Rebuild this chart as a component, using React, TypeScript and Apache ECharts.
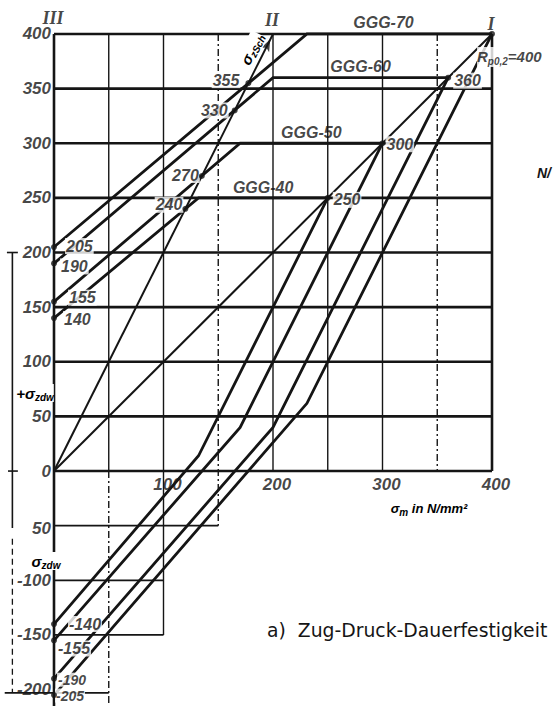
import React, { useEffect, useRef } from "react";
import * as echarts from "echarts";

// Gusseisen mit Kugelgraphit
const materials = ["GGG-40", "GGG-50", "GGG-60", "GGG-70"];
// Zug-Druck-Wechselfestigkeit ±σzdw in N/mm²
const sigmaZdw = [140, 155, 190, 205];
// Zug-Schwellfestigkeit σzSch (Oberspannung) und zugehörige Mittelspannung
const sigmaZSch = [240, 270, 330, 355];
const sigmaMSch = [120, 135, 165, 177.5];
// Dehngrenze Rp0,2
const rp02 = [250, 300, 360, 400];
// Mittelspannung, bei der die Oberspannungslinie die Dehngrenze erreicht
const kneeM = [132, 170, 200, 231];
// Unterspannung bei dieser Mittelspannung
const kneeLower = [14, 40, 40, 62];

// σo = σm  und  σo = 2·σm (Schwellgerade)
const meanLine = [[0, 0], [400, 400]];
const schLine = [[0, 0], [200, 400]];

const yTicks = [400, 350, 300, 250, 200, 150, 100, 50, 0, -50, -100, -150, -200];
const yTickLabels = ["400", "350", "300", "250", "200", "150", "100", "50", "0", "50", "-100", "-150", "-200"];
const xTicks = [100, 200, 300, 400];
const xTickLabels = ["100", "200", "300", "400"];

// Raster: [σm] bzw. [σm, σ von, σ bis] bzw. [σ, σm von, σm bis]
const rulesH = [0, 50, 100, 150, 200, 250, 300, 350, 400];
const rulesV = [[50, 400, 0], [100, 400, -150], [200, 400, 0], [250, 400, 0], [300, 400, 0]];
const rulesVDashDot = [[150, 400, -50], [350, 400, 0], [50, 0, -215]];
const rulesHLower = [[-50, 0, 150], [-100, 0, 100], [-150, 0, 100], [-203, -45, 50]];

const romanLabels = ["III", "II", "I"];
const romanAt = [0, 200, 400];

// Maßlinie für ±σzdw
const bracketX = -38;

// axis frame: σm from -48 to 450, σ from -215 to 420
const X_MIN = -48, X_MAX = 450, Y_MIN = -215, Y_MAX = 420;
const K = 1.095;
const ORIGIN_X = 54, ORIGIN_Y = 472;

const INK = "#151515";
const NUM_FONT = "'Liberation Sans', Arial, sans-serif";
const DASH_DOT = [7, 3, 2, 3];

function buildOption() {
  const series: any[] = [];

  const seg = (data: number[][], width: number, type: any = "solid", z = 2) =>
    series.push({
      type: "line",
      data,
      symbol: "none",
      silent: true,
      clip: false,
      z,
      lineStyle: { color: INK, width, type, cap: "butt", join: "miter" },
    });

  const tag = (x: number, y: number, text: string, o: any = {}) =>
    series.push({
      type: "scatter",
      data: [[x, y]],
      symbol: "circle",
      symbolSize: 2,
      silent: true,
      z: 6,
      itemStyle: { color: "rgba(0,0,0,0)" },
      label: {
        show: true,
        formatter: text,
        position: [1, 1],
        align: o.align ?? "left",
        verticalAlign: o.va ?? "middle",
        offset: o.offset ?? [0, 0],
        fontFamily: o.family ?? NUM_FONT,
        fontStyle: o.style ?? "italic",
        fontWeight: o.weight ?? "bold",
        fontSize: o.size ?? 16,
        lineHeight: o.size ?? 16,
        color: INK,
        backgroundColor: o.bg ?? "transparent",
        padding: o.pad ?? 0,
        rich: o.rich,
      },
    });

  // thin verticals
  rulesV.forEach(([x, a, b]) => seg([[x, a], [x, b]], 1.4, "solid", 1));
  rulesVDashDot.forEach(([x, a, b]) => seg([[x, a], [x, b]], 1.4, DASH_DOT, 1));
  // heavy horizontals
  rulesH.forEach((y) => seg([[0, y], [400, y]], 2.6, "solid", 1));
  rulesHLower.forEach(([y, a, b]) => seg([[a, y], [b, y]], 1.8, "solid", 1));
  // frame
  seg([[0, 400], [0, Y_MIN]], 2.6, "solid", 1);
  seg([[400, 0], [400, 400]], 2.6, "solid", 1);

  // dimension line ±σzdw
  seg([[bracketX, 200], [bracketX, -52]], 1.6, "solid", 1);
  seg([[bracketX, -62], [bracketX, -203]], 1.3, [6, 4], 1);
  seg([[bracketX - 5, 200], [bracketX + 5, 200]], 1.6, "solid", 1);
  seg([[bracketX - 4, 0], [bracketX + 5, 0]], 1.6, "solid", 1);

  // σo = σm and Schwellgerade
  seg(meanLine, 2);
  seg(schLine, 2);
  const schEnd = schLine[schLine.length - 1];
  series.push({
    type: "scatter",
    data: [schEnd],
    symbol: "arrow",
    symbolSize: [7, 12],
    symbolRotate: -26.57,
    symbolOffset: [-2.7, 5.4],
    itemStyle: { color: INK },
    silent: true,
    z: 4,
  });

  // Ober- und Unterspannungslinien
  materials.forEach((_, i) => {
    seg([[0, sigmaZdw[i]], [kneeM[i], rp02[i]], [rp02[i], rp02[i]]], 2.8, "solid", 3);
    seg([[0, -sigmaZdw[i]], [kneeM[i], kneeLower[i]], [rp02[i], rp02[i]]], 2.8, "solid", 3);
  });

  // points
  const dots: number[][] = [];
  materials.forEach((_, i) => {
    dots.push([0, sigmaZdw[i]], [0, -sigmaZdw[i]], [sigmaMSch[i], sigmaZSch[i]], [rp02[i], rp02[i]]);
  });
  series.push({
    type: "scatter",
    data: dots,
    symbol: "circle",
    symbolSize: 6,
    itemStyle: { color: INK },
    silent: true,
    z: 7,
  });

  // tick labels
  yTicks.forEach((y, i) =>
    tag(0, y, yTickLabels[i], { align: "right", offset: [-3, y === -50 ? 3 : 0], size: 17 })
  );
  xTicks.forEach((x, i) =>
    tag(x, 0, xTickLabels[i], { align: "center", va: "top", offset: [4, 5], size: 17 })
  );

  const whiteBg = { bg: "#fff", pad: [0, 1] };
  const schShift = [[-2, -4], [-2, -1], [-6, 0], [-8, -3]];
  const zdwShift = [[9, 1], [14, -4], [6, 3], [11, -1]];
  const zdwNegShift = [[14, 0], [3, 8], [3, 1], [1, 0.5]];
  const zdwNegSize = [16, 16, 14, 14];
  const rpShift = [[5, 2], [3, 1], [5, 3]];
  const matShift = [[0, -10], [0, -11], [0, -11], [-16, -11]];

  materials.forEach((name, i) => {
    tag(sigmaMSch[i], sigmaZSch[i], String(sigmaZSch[i]), { align: "right", offset: schShift[i], ...whiteBg });
    tag(0, sigmaZdw[i], String(sigmaZdw[i]), { offset: zdwShift[i], ...whiteBg });
    tag(0, -sigmaZdw[i], `-${sigmaZdw[i]}`, { offset: zdwNegShift[i], size: zdwNegSize[i], ...whiteBg });
    if (i < rpShift.length) {
      tag(rp02[i], rp02[i], String(rp02[i]), { offset: rpShift[i], ...whiteBg });
    }
    tag((kneeM[i] + rp02[i]) / 2, rp02[i], name, { align: "center", offset: matShift[i], size: 16 });
  });

  // Rp0,2 = 400 at point I
  const sub = { fontFamily: NUM_FONT, fontStyle: "italic", fontWeight: "bold", fontSize: 10, lineHeight: 10, verticalAlign: "bottom", color: INK };
  const main = { fontFamily: NUM_FONT, fontStyle: "italic", fontWeight: "bold", fontSize: 15, lineHeight: 20, color: INK };
  tag(rp02[3], rp02[3], `{m|R}{s|p0,2}{m|=${rp02[3]}}`, {
    offset: [-15, 23],
    bg: "#fff",
    rich: { m: main, s: sub },
  });

  // Roman numerals
  const romanShift = [[-1, -16], [-1, -14], [-1, -10]];
  romanAt.forEach((x, i) =>
    tag(x, 400, romanLabels[i], {
      align: "center",
      offset: romanShift[i],
      family: "'Liberation Serif', serif",
      weight: "bold",
      size: 18,
    })
  );

  const rich = {
    m: { fontFamily: NUM_FONT, fontStyle: "italic", fontWeight: "bold", fontSize: 15, lineHeight: 18, color: INK },
    s: { fontFamily: NUM_FONT, fontStyle: "italic", fontWeight: "bold", fontSize: 10, lineHeight: 10, verticalAlign: "bottom", color: INK },
  };

  return {
    animation: false,
    backgroundColor: "#fff",
    grid: {
      left: ORIGIN_X + X_MIN * K,
      top: ORIGIN_Y - Y_MAX * K,
      width: (X_MAX - X_MIN) * K,
      height: (Y_MAX - Y_MIN) * K,
    },
    xAxis: { type: "value", min: X_MIN, max: X_MAX, show: false },
    yAxis: { type: "value", min: Y_MIN, max: Y_MAX, show: false },
    series,
    graphic: [
      {
        type: "text",
        x: 252,
        y: 49,
        rotation: Math.atan(2),
        style: { text: "{m|σ}{s|zSch}", align: "center", verticalAlign: "middle", rich, backgroundColor: "#fff" },
        z: 10,
      },
      {
        type: "text",
        x: 35,
        y: 393,
        style: { text: "{m|+σ}{s|zdw}", align: "center", verticalAlign: "middle", rich, backgroundColor: "#fff" },
        z: 10,
      },
      {
        type: "text",
        x: 46,
        y: 561,
        style: { text: "{m|σ}{s|zdw}", align: "center", verticalAlign: "middle", rich, backgroundColor: "#fff" },
        z: 10,
      },
      {
        type: "text",
        x: 429,
        y: 508,
        style: {
          text: "{m|σ}{s|m}{m| in N/mm²}",
          align: "center",
          verticalAlign: "middle",
          rich: { m: { ...rich.m, fontSize: 13 }, s: rich.s },
        },
        z: 10,
      },
      {
        type: "text",
        x: 537,
        y: 173,
        style: { text: "N/", align: "left", verticalAlign: "middle", fontFamily: NUM_FONT, fontStyle: "italic", fontWeight: "bold", fontSize: 14, fill: INK },
        z: 10,
      },
      {
        type: "text",
        x: 267,
        y: 630,
        style: { text: "a)  Zug-Druck-Dauerfestigkeit", align: "left", verticalAlign: "middle", fontFamily: "'DejaVu Sans', sans-serif", fontSize: 18.8, fill: INK },
        z: 10,
      },
    ],
  };
}

export default function App() {
  const ref = useRef<HTMLDivElement>(null);
  useEffect(() => {
    if (!ref.current) return;
    const chart = echarts.init(ref.current, null, { renderer: "svg" });
    chart.setOption(buildOption() as any);
    return () => chart.dispose();
  }, []);
  return (
    <div
      ref={ref}
      style={{ position: "fixed", left: 0, top: 0, width: 553, height: 706, background: "#fff" }}
    />
  );
}
